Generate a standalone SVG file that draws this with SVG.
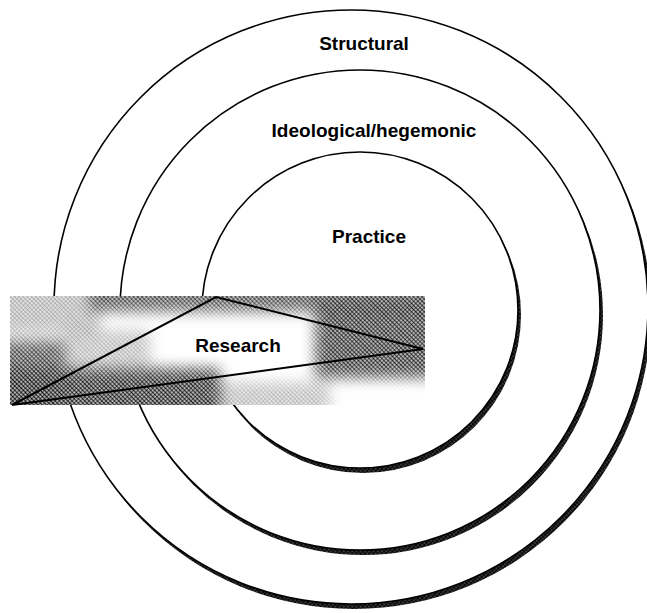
<svg xmlns="http://www.w3.org/2000/svg" width="647" height="613" viewBox="0 0 647 613">
  <style>
    .ring { fill: #fff; stroke: #000; stroke-width: 1.6; }
    .shadow { fill: url(#ht2); }
    .label { font-family: "Liberation Sans", Arial, sans-serif; font-weight: bold; font-size: 19px; fill: #000; text-anchor: middle; }
    .tri { fill: none; stroke: #000; stroke-width: 2; stroke-linejoin: miter; }
  </style>
  <defs>
    <pattern id="ht" patternUnits="userSpaceOnUse" width="3" height="3" patternTransform="rotate(45)">
      <circle cx="1.5" cy="1.5" r="1.35" fill="#000"/>
    </pattern>
    <pattern id="ht2" patternUnits="userSpaceOnUse" width="3" height="3" patternTransform="rotate(45)">
      <rect width="3" height="3" fill="#666"/>
      <circle cx="1.5" cy="1.5" r="1.4" fill="#000"/>
    </pattern>
    <filter id="soft" x="-30%" y="-30%" width="160%" height="160%">
      <feGaussianBlur stdDeviation="7"/>
    </filter>
    <mask id="shadeMask" maskUnits="userSpaceOnUse" x="10" y="296" width="415" height="109">
      <rect x="0" y="280" width="440" height="140" fill="#000"/>
      <g filter="url(#soft)">
        <rect x="-10" y="285" width="110" height="48" fill="#fff" fill-opacity="0.35"/>
        <rect x="90" y="280" width="350" height="32" fill="#fff" fill-opacity="0.8"/>
        <rect x="315" y="300" width="125" height="78" fill="#fff" fill-opacity="0.9"/>
        <rect x="-10" y="340" width="75" height="80" fill="#fff" fill-opacity="0.8"/>
        <rect x="-10" y="368" width="230" height="55" fill="#fff" fill-opacity="0.95"/>
        <rect x="215" y="382" width="115" height="40" fill="#fff" fill-opacity="0.3"/>
        <rect x="65" y="330" width="85" height="36" fill="#fff" fill-opacity="0.3"/>
      </g>
    </mask>
  </defs>

  <g id="structural">
    <circle class="shadow" cx="354" cy="312" r="297"/>
    <circle class="ring" cx="351" cy="307" r="297"/>
    <text class="label" x="364" y="50">Structural</text>
  </g>

  <g id="ideological">
    <circle class="shadow" cx="363" cy="315" r="240"/>
    <circle class="ring" cx="360" cy="310" r="240"/>
    <text class="label" x="374" y="137">Ideological/hegemonic</text>
  </g>

  <g id="practice">
    <circle class="shadow" cx="363" cy="315" r="158"/>
    <circle class="ring" cx="360" cy="310" r="158"/>
    <text class="label" x="369" y="243">Practice</text>
  </g>

  <g id="research">
    <rect x="10" y="296" width="415" height="109" fill="#fff"/>
    <rect x="10" y="296" width="415" height="109" fill="url(#ht)" mask="url(#shadeMask)"/>
    <polygon class="tri" points="12,405 216,297 423,349"/>
    <text class="label" x="238" y="352">Research</text>
  </g>
</svg>
